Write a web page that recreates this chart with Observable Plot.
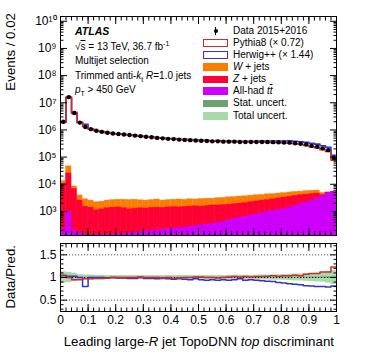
<!DOCTYPE html>
<html>
<head>
<meta charset="utf-8">
<script src="https://cdn.jsdelivr.net/npm/d3@7"></script>
<script src="https://cdn.jsdelivr.net/npm/@observablehq/plot@0.6"></script>
<style>
  body { margin: 0; background: #fff; }
  #chart { position: relative; width: 374px; height: 359px; overflow: hidden;
           font-family: "Liberation Sans", Arial, Helvetica, sans-serif; color: #000; background: #fff; }
  #chart svg { position: absolute; left: 0; }
  .t { position: absolute; white-space: nowrap; font-size: 10px; line-height: 11px; }
  .sw { position: absolute; box-sizing: border-box; }
  sub, sup { font-size: 7px; line-height: 0; }
</style>
</head>
<body>
<div id="chart"></div>
<script>
// ---------------- data ----------------
const binLow = [0,0.02,0.04,0.06,0.08,0.1,0.12,0.14,0.16,0.18,0.2,0.22,0.24,0.26,0.28,0.3,0.32,0.34,0.36,0.38,
  0.4,0.42,0.44,0.46,0.48,0.5,0.52,0.54,0.56,0.58,0.6,0.62,0.64,0.66,0.68,0.7,0.72,0.74,0.76,0.78,
  0.8,0.82,0.84,0.86,0.88,0.9,0.92,0.94,0.96,0.98];
const binWidth = 0.02;

// Data 2015+2016, events per bin
const dataEvents = [2.0e6,1.62e7,4.2e6,1.86e6,1.29e6,1.07e6,9.3e5,8.5e5,7.9e5,7.4e5,
  7.1e5,6.8e5,6.5e5,6.2e5,5.9e5,5.6e5,5.4e5,5.1e5,4.9e5,4.7e5,
  4.6e5,4.4e5,4.3e5,4.2e5,4.1e5,4.0e5,3.9e5,3.8e5,3.8e5,3.7e5,
  3.7e5,3.7e5,3.6e5,3.6e5,3.6e5,3.6e5,3.6e5,3.6e5,3.55e5,3.5e5,
  3.45e5,3.4e5,3.25e5,3.1e5,2.9e5,2.6e5,2.4e5,2.1e5,1.8e5,9.5e4];

// Data / prediction ratios (lower panel)
const ratioPythia = [1.04,1.0,0.95,0.95,0.97,0.97,0.98,0.98,0.99,1.0,
  1.0,1.0,1.0,1.0,1.01,1.0,1.0,1.0,0.99,1.0,
  0.98,0.99,1.0,1.0,1.01,1.01,1.0,1.0,0.99,1.0,
  1.01,1.02,1.01,1.02,1.01,1.02,1.02,1.03,1.04,1.03,
  1.04,1.04,1.05,1.04,1.07,1.09,1.09,1.12,1.12,1.23];
const ratioHerwig = [1.05,1.03,1.03,1.0,0.80,1.0,1.0,1.0,0.99,1.0,
  0.99,0.99,0.98,0.98,1.0,0.98,0.98,0.97,0.98,0.97,
  0.96,0.97,0.96,0.95,0.97,0.95,0.94,0.95,0.94,0.95,
  0.94,0.95,0.97,0.94,0.95,0.94,0.93,0.92,0.91,0.89,
  0.88,0.86,0.85,0.84,0.82,0.81,0.80,0.80,0.79,0.81];

// Stacked backgrounds, events per bin
const wJets = [2700,20600,1560,1380,1310,1130,1090,1090,1190,1250,
  1280,1370,1430,1430,1250,1220,1280,1370,1160,1220,
  1245,1340,1210,1310,1200,1370,1365,1290,1430,1460,
  1530,1530,1600,1590,1610,1640,1560,1640,1550,1550,
  1550,1540,1530,1390,1450,1380,1320,720,230,120];
const zJets = [10300,24200,6560,2350,1370,1250,970,1065,1180,1240,
  1265,1170,1040,1095,1140,1100,1155,1175,1135,1185,
  1210,1165,1225,1240,1260,1200,1255,1305,1280,1285,
  1310,1325,1360,1395,1480,1565,1640,1675,1770,1870,
  1980,2060,2100,2120,2030,1860,1550,270,110,10];
const ttbar = [210,930,200,160,140,132,132,135,140,140,
  145,150,160,165,180,185,195,205,215,225,
  235,245,255,270,290,310,330,355,380,415,
  470,535,590,645,710,775,870,955,1050,1150,
  1260,1410,1620,1860,2140,2510,3020,3800,4790,5250];

// Uncertainty half-widths on the ratio
const totalUnc = [0.12,0.11,0.09,0.06,0.05,0.05,0.045,0.045,0.04,0.04,
  0.04,0.04,0.04,0.04,0.04,0.04,0.04,0.04,0.04,0.04,
  0.04,0.04,0.04,0.04,0.04,0.04,0.04,0.04,0.04,0.04,
  0.045,0.045,0.045,0.045,0.045,0.045,0.05,0.05,0.055,0.055,
  0.06,0.065,0.07,0.07,0.08,0.085,0.09,0.10,0.12,0.15];
const statUnc = [0.005,0.003,0.004,0.005,0.006,0.006,0.006,0.006,0.006,0.006,
  0.006,0.006,0.006,0.006,0.006,0.006,0.006,0.006,0.006,0.006,
  0.006,0.006,0.006,0.006,0.006,0.006,0.006,0.006,0.006,0.006,
  0.006,0.006,0.006,0.006,0.006,0.006,0.006,0.006,0.006,0.006,
  0.007,0.007,0.007,0.008,0.008,0.009,0.01,0.012,0.015,0.02];

// Axis ticks
const yMajorTicks = [1e3,1e4,1e5,1e6,1e7,1e8,1e9,1e10];
const yMinorDecades = [1e2,1e3,1e4,1e5,1e6,1e7,1e8,1e9,1e10];
const yMinorMult = [2,3,4,5,6,7,8,9];
const xMajorTicks = [0,0.1,0.2,0.3,0.4,0.5,0.6,0.7,0.8,0.9,1];
const xTickLabels = ["0","0.1","0.2","0.3","0.4","0.5","0.6","0.7","0.8","0.9","1"];
const ratioMajorTicks = [0.5,1,1.5];
const ratioTickLabels = ["0.5","1","1.5"];
const ratioMinorTicks = [0.3,0.4,0.6,0.7,0.8,0.9,1.1,1.2,1.3,1.4,1.6,1.7];

// Texts
const atlasLines = [
  '<b><i>ATLAS</i></b>',
  '√<span style="text-decoration:overline">s</span> = 13 TeV, 36.7 fb<sup>-1</sup>',
  'Multijet selection',
  'Trimmed anti-<i>k</i><sub>t</sub> <i>R</i>=1.0 jets',
  '<i>p</i><sub>T</sub> &gt; 450 GeV'
];
const legendLabels = ['Data 2015+2016','Pythia8 (× 0.72)','Herwig++ (× 1.44)','<i>W</i> + jets','<i>Z</i> + jets',
  'All-had <i>t</i><i style="text-decoration:overline">t</i>','Stat. uncert.','Total uncert.'];
const yTitleTop = 'Events / 0.02';
const yTitleBottom = 'Data/Pred.';
const xTitle = 'Leading large-<i>R</i> jet TopoDNN <i>top</i> discriminant';

// ---------------- styles ----------------
const cW = "#ff7b00", cZ = "#ff0036", cT = "#cc00ff";
const cPy = "#d02a2a", cHw = "#3232d2";
const cStat = "#6fa06f", cTot = "#a9d8a9";
const font = '"Liberation Sans", Arial, Helvetica, sans-serif';
const yMin = 130, yMax = 1.5e10;

const bins = binLow.map((x0, i) => ({
  x1: x0, x2: x0 + binWidth, xc: x0 + binWidth / 2,
  data: dataEvents[i],
  py: dataEvents[i] / ratioPythia[i], hw: dataEvents[i] / ratioHerwig[i],
  tt: ttbar[i], zt: ttbar[i] + zJets[i], wt: ttbar[i] + zJets[i] + wJets[i],
  rp: ratioPythia[i], rh: ratioHerwig[i], tot: totalUnc[i], st: statUnc[i]
}));
const step = key => [...bins.map(b => ({x: b.x1, y: b[key]})), {x: bins[bins.length - 1].x2, y: bins[bins.length - 1][key]}];
const yMinorTicks = yMinorDecades.flatMap(d => yMinorMult.map(m => d * m)).filter(v => v > yMin && v < yMax);
const supMap = {"0":"⁰","1":"¹","2":"²","3":"³","4":"⁴","5":"⁵","6":"⁶","7":"⁷","8":"⁸","9":"⁹"};
const supFmt = d => "10" + String(Math.round(Math.log10(d))).split("").map(c => supMap[c]).join("");

const tickAxes = (majorsY, minorsY) => [
  Plot.axisY(majorsY, {anchor: "left", tickSize: -7, fill: "none", label: null}),
  Plot.axisY(minorsY, {anchor: "left", tickSize: -3.5, fill: "none", label: null}),
  Plot.axisY(majorsY, {anchor: "right", tickSize: -7, fill: "none", label: null}),
  Plot.axisY(minorsY, {anchor: "right", tickSize: -3.5, fill: "none", label: null}),
  Plot.axisX(xMajorTicks, {anchor: "bottom", tickSize: -7, fill: "none", label: null}),
  Plot.axisX(binLow, {anchor: "bottom", tickSize: -3.5, fill: "none", label: null}),
  Plot.axisX(xMajorTicks, {anchor: "top", tickSize: -7, fill: "none", label: null}),
  Plot.axisX(binLow, {anchor: "top", tickSize: -3.5, fill: "none", label: null})
];

// ---------------- upper panel ----------------
const upper = Plot.plot({
  width: 374, height: 240,
  marginLeft: 60, marginRight: 38, marginTop: 16, marginBottom: 5,
  x: {domain: [0, 1]},
  y: {type: "log", domain: [yMin, yMax]},
  style: {fontFamily: font, fontSize: "12px", background: "transparent", overflow: "visible"},
  marks: [
    Plot.rect(bins, {x1: "x1", x2: "x2", y1: () => yMin, y2: "wt", fill: cW, stroke: cW, strokeWidth: 0.3, clip: true}),
    Plot.rect(bins, {x1: "x1", x2: "x2", y1: () => yMin, y2: "zt", fill: cZ, stroke: cZ, strokeWidth: 0.3, clip: true}),
    Plot.rect(bins, {x1: "x1", x2: "x2", y1: () => yMin, y2: "tt", fill: cT, stroke: cT, strokeWidth: 0.3, clip: true}),
    Plot.line(step("hw"), {x: "x", y: "y", curve: "step-after", stroke: cHw, strokeWidth: 1.6}),
    Plot.line(step("py"), {x: "x", y: "y", curve: "step-after", stroke: cPy, strokeWidth: 1.6}),
    Plot.dot(bins, {x: "xc", y: "data", r: 2.2, fill: "black", stroke: "none"}),
    Plot.axisY(yMajorTicks, {anchor: "left", tickSize: 0, tickPadding: 4, tickFormat: supFmt, fontSize: 12, label: null}),
    ...tickAxes(yMajorTicks, yMinorTicks),
    Plot.frame({stroke: "black", strokeWidth: 1})
  ]
});

// ---------------- lower panel ----------------
const lower = Plot.plot({
  width: 374, height: 119,
  marginLeft: 60, marginRight: 38, marginTop: 3, marginBottom: 48,
  x: {domain: [0, 1]},
  y: {domain: [0.25, 1.75]},
  style: {fontFamily: font, fontSize: "12px", background: "transparent", overflow: "visible"},
  marks: [
    Plot.rect(bins, {x1: "x1", x2: "x2", y1: d => 1 - d.tot, y2: d => 1 + d.tot, fill: cTot, stroke: cTot, strokeWidth: 0.3}),
    Plot.rect(bins, {x1: "x1", x2: "x2", y1: d => 1 - d.st, y2: d => 1 + d.st, fill: cStat}),
    Plot.ruleY([0.5, 1.5], {stroke: "#555", strokeDasharray: "1.2,1.8", strokeWidth: 1}),
    Plot.ruleY([1], {stroke: "#000", strokeDasharray: "1.2,1.8", strokeWidth: 1}),
    Plot.line(step("rh"), {x: "x", y: "y", curve: "step-after", stroke: cHw, strokeWidth: 1.5}),
    Plot.line(step("rp"), {x: "x", y: "y", curve: "step-after", stroke: cPy, strokeWidth: 1.5}),
    Plot.axisY(ratioMajorTicks, {anchor: "left", tickSize: 0, tickPadding: 4, fontSize: 12, label: null,
      tickFormat: d => ratioTickLabels[ratioMajorTicks.indexOf(d)]}),
    Plot.axisX(xMajorTicks, {anchor: "bottom", tickSize: 0, tickPadding: 4, fontSize: 12, label: null,
      tickFormat: d => xTickLabels[xMajorTicks.indexOf(d)]}),
    ...tickAxes(ratioMajorTicks, ratioMinorTicks),
    Plot.frame({stroke: "black", strokeWidth: 1})
  ]
});

const chart = document.getElementById("chart");
upper.style.top = "0px";
lower.style.top = "240px";
chart.append(upper, lower);

// ---------------- text overlays ----------------
function addText(html, left, top, extra = "") {
  const d = document.createElement("div");
  d.className = "t";
  d.style.left = left + "px";
  d.style.top = top + "px";
  d.style.cssText += extra;
  d.innerHTML = html;
  chart.append(d);
  return d;
}
const atlasTops = [26, 41, 55, 70, 84];
atlasLines.forEach((l, i) => addText(l, 75, atlasTops[i], i === 0 ? "font-size:10.5px;" : ""));

const legendY = [31, 42.7, 54.6, 66.8, 79, 90.9, 103.2, 115.5];
const legendStyle = [
  {type: "data"},
  {type: "box", fill: "#fff", stroke: cPy},
  {type: "box", fill: "#fff", stroke: cHw},
  {type: "box", fill: cW},
  {type: "box", fill: cZ},
  {type: "box", fill: cT},
  {type: "box", fill: cStat},
  {type: "box", fill: cTot}
];
legendLabels.forEach((lab, i) => {
  const cy = legendY[i], s = legendStyle[i];
  if (s.type === "data") {
    const dot = document.createElement("div");
    dot.className = "sw";
    Object.assign(dot.style, {left: (215.7 - 2.2) + "px", top: (cy - 2.2) + "px", width: "4.4px", height: "4.4px",
      borderRadius: "50%", background: "#000"});
    const bar = document.createElement("div");
    bar.className = "sw";
    Object.assign(bar.style, {left: (215.7 - 0.5) + "px", top: (cy - 4) + "px", width: "1px", height: "8px", background: "#000"});
    chart.append(bar, dot);
  } else {
    const b = document.createElement("div");
    b.className = "sw";
    Object.assign(b.style, {left: "203px", top: (cy - 3.5) + "px", width: "25px", height: "7.5px", background: s.fill});
    if (s.stroke) {
      b.style.borderWidth = "1.5px";
      b.style.borderStyle = "solid";
      b.style.borderColor = s.stroke;
    }
    chart.append(b);
  }
  addText(lab, 233, cy - 6);
});

// axis titles
addText(yTitleTop, 4, 13, "font-size:13.3px;line-height:14px;transform-origin:0 0;transform:rotate(-90deg) translate(-100%,0);");
addText(yTitleBottom, 4, 245, "font-size:13.3px;line-height:14px;transform-origin:0 0;transform:rotate(-90deg) translate(-100%,0);");
addText(xTitle, 0, 335, "font-size:13.3px;line-height:14px;left:auto;right:40px;text-align:right;");
</script>
</body>
</html>
